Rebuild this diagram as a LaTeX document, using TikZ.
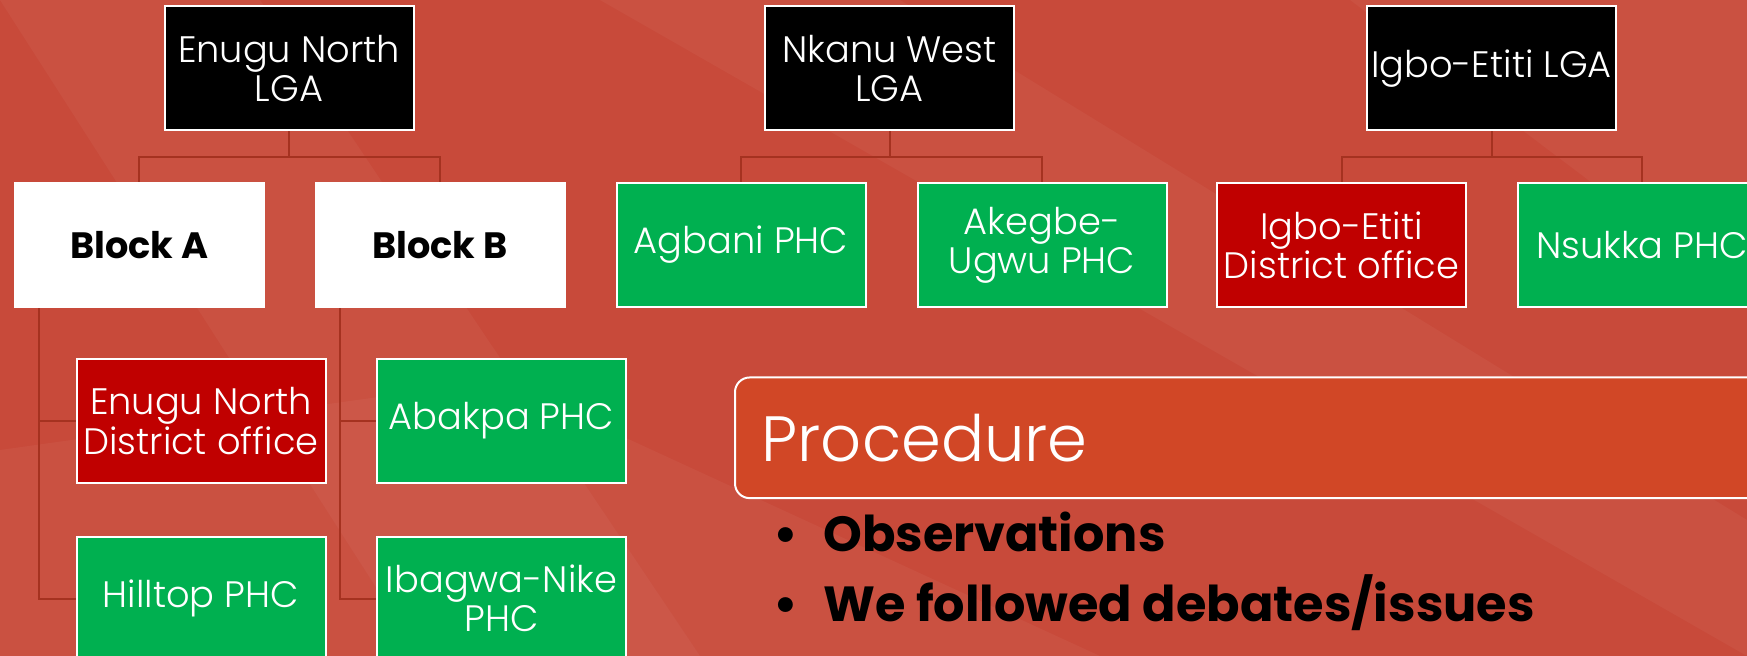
\documentclass[tikz,border=0pt]{standalone}
\usepackage{fontspec}
\setmainfont{Poppins}[UprightFont=* Light, BoldFont=* Bold]
\usetikzlibrary{calc}
\definecolor{bgred}{RGB}{200,74,58}
\definecolor{procfill}{RGB}{209,71,38}
\definecolor{conn}{RGB}{165,50,32}
\definecolor{boxgreen}{RGB}{0,176,80}
\definecolor{boxred}{RGB}{192,0,0}
\begin{document}
\begin{tikzpicture}[x=0.75pt,y=-0.75pt,
  orgbox/.style={draw=white,line width=1.5pt,minimum width=186.75pt,minimum height=93pt,inner sep=0.5pt,align=center,font=\fontsize{27.6}{29.5}\selectfont,text=white},
  lgabox/.style={orgbox,fill=black},
  greenbox/.style={orgbox,fill=boxgreen},
  redbox/.style={orgbox,fill=boxred},
  blockbox/.style={orgbox,fill=white,text=black,font=\fontsize{27.5}{29}\selectfont\bfseries},
  link/.style={draw=conn,line width=1.5pt},
  bullettext/.style={anchor=base west,font=\fontsize{37}{44}\selectfont\bfseries,text=black,inner sep=0pt},
  streak/.style={fill=white,fill opacity=0.04}
]
\useasboundingbox (0,0) rectangle (1747,656);
\clip (0,0) rectangle (1747,656);
\fill[bgred] (0,0) rectangle (1747,656);
% faint background streaks
\fill[streak] (0,0) -- (260,0) -- (700,656) -- (420,656) -- cycle;
\fill[streak] (600,0) -- (900,0) -- (1747,520) -- (1747,656) -- cycle;
\fill[streak] (1350,0) -- (1747,0) -- (1747,300) -- cycle;
\fill[streak] (0,450) -- (500,380) -- (1100,656) -- (0,656) -- cycle;

% LGA boxes
\node[lgabox] (enl) at (289,68.5) {Enugu North\\LGA};
\node[lgabox] (nwl) at (889.5,68.5) {Nkanu West\\LGA};
\node[lgabox] (iel) at (1491.5,68.5) {Igbo-Etiti LGA};
% second row
\node[blockbox] (ba) at (139.3,245) {Block A};
\node[blockbox] (bb) at (440,245) {Block B};
\node[greenbox] (ag) at (741,245) {Agbani PHC};
\node[greenbox] (ak) at (1042,245) {Akegbe-\\Ugwu PHC};
\node[redbox] (ido) at (1341.5,245) {Igbo-Etiti\\District office};
\node[greenbox] (ns) at (1642,245) {Nsukka PHC};
% third/fourth rows
\node[redbox] (edo) at (201,421) {Enugu North\\District office};
\node[greenbox] (ab) at (501.5,421) {Abakpa PHC};
\node[greenbox] (hp) at (201,598.5) {Hilltop PHC};
\node[greenbox] (ib) at (501.5,598.5) {Ibagwa-Nike\\PHC};

% connectors
\draw[link] (enl.south) -- (enl.south |- 0,157) -| (ba.north);
\draw[link] (enl.south |- 0,157) -| (bb.north);
\draw[link] (nwl.south) -- (nwl.south |- 0,157) -| (ag.north);
\draw[link] (nwl.south |- 0,157) -| (ak.north);
\draw[link] (iel.south) -- (iel.south |- 0,157) -| (ido.north);
\draw[link] (iel.south |- 0,157) -| (ns.north);
\coordinate (ba1) at ($(ba.south west)+(25.5,0)$);
\coordinate (bb1) at ($(bb.south west)+(25.5,0)$);
\draw[link] (ba1) |- (hp.west);
\draw[link] (ba1 |- edo.west) -- (edo.west);
\draw[link] (bb1) |- (ib.west);
\draw[link] (bb1 |- ab.west) -- (ab.west);

% Procedure header
\node[draw=white,line width=1.5pt,fill=procfill,rounded corners=11pt,
      minimum width=780pt,minimum height=90.5pt,anchor=west,
      text width=740pt,align=left,inner xsep=20pt,text=white,
      font=\fontsize{48}{52}\selectfont] (proc) at (734,437.8) {Procedure};

% bullets
\node[bullettext] (d1) at (773,551.7) {\textbullet};
\node[bullettext] (t1) at (823,551.7) {Observations};
\node[bullettext] (d2) at (773,621.7) {\textbullet};
\node[bullettext] (t2) at (823,621.7) {We followed debates/issues};
\end{tikzpicture}
\end{document}
